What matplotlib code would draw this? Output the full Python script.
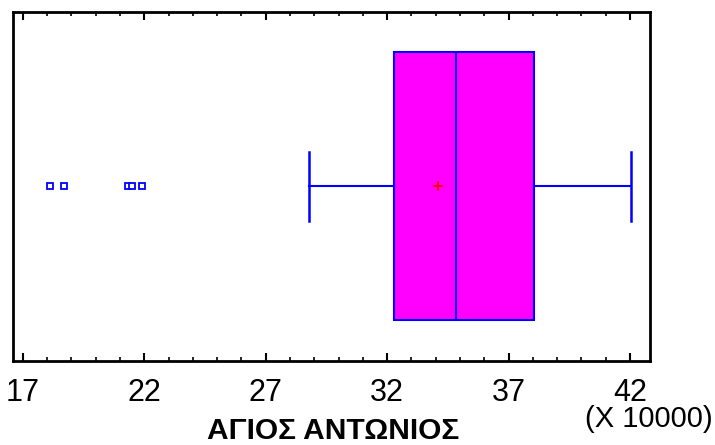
import matplotlib.pyplot as plt
from matplotlib.ticker import MultipleLocator

plt.rcParams['font.family'] = ['Liberation Sans', 'DejaVu Sans']

# box plot summary (in units of 10000)
label = 'ΑΓΙΟΣ ΑΝΤΩΝΙΟΣ'
whislo, q1, med, q3, whishi = 28.8, 32.3, 34.85, 38.05, 42.05
mean_val = 34.1
outliers = [18.1, 18.7, 21.35, 21.5, 21.9]
ticks = [17, 22, 27, 32, 37, 42]

fig = plt.figure(figsize=(7.15, 4.45), dpi=100)
ax = fig.add_axes([0.018, 0.189, 0.891, 0.784])

stats = [dict(label=label, whislo=whislo, q1=q1, med=med, q3=q3, whishi=whishi,
              mean=mean_val, fliers=outliers)]
ax.bxp(stats, positions=[0.5], widths=0.768, vert=False, patch_artist=True,
       showmeans=True, capwidths=0.198,
       boxprops=dict(facecolor='#ff00ff', edgecolor='#0000ff', linewidth=1.5),
       medianprops=dict(color='#0000ff', linewidth=1.5),
       whiskerprops=dict(color='#0000ff', linewidth=1.5),
       capprops=dict(color='#0000ff', linewidth=1.8),
       meanprops=dict(marker='+', markeredgecolor='red', markersize=7, markeredgewidth=1.3),
       flierprops=dict(marker='s', markersize=4, markerfacecolor='white',
                       markeredgecolor='#0000ff', markeredgewidth=1.3))

ax.set_xlim(16.59, 42.82)
ax.set_ylim(0, 1)
ax.set_yticks([])
ax.set_xticks(ticks)
ax.set_xticklabels([str(t) for t in ticks], fontsize=22)
ax.xaxis.set_minor_locator(MultipleLocator(1))
ax.tick_params(axis='x', which='major', direction='in', length=6, width=1.5,
               top=True, bottom=True, pad=12)
ax.tick_params(axis='x', which='minor', direction='in', length=3, width=1.2,
               top=True, bottom=True)
for s in ax.spines.values():
    s.set_linewidth(2)

fig.text(0.466, 0.0, label, fontsize=21.5, fontweight='bold', ha='center', va='bottom')
fig.text(0.996, 0.028, '(X 10000)', fontsize=21, ha='right', va='bottom')

fig.savefig('out.png', dpi=100)
